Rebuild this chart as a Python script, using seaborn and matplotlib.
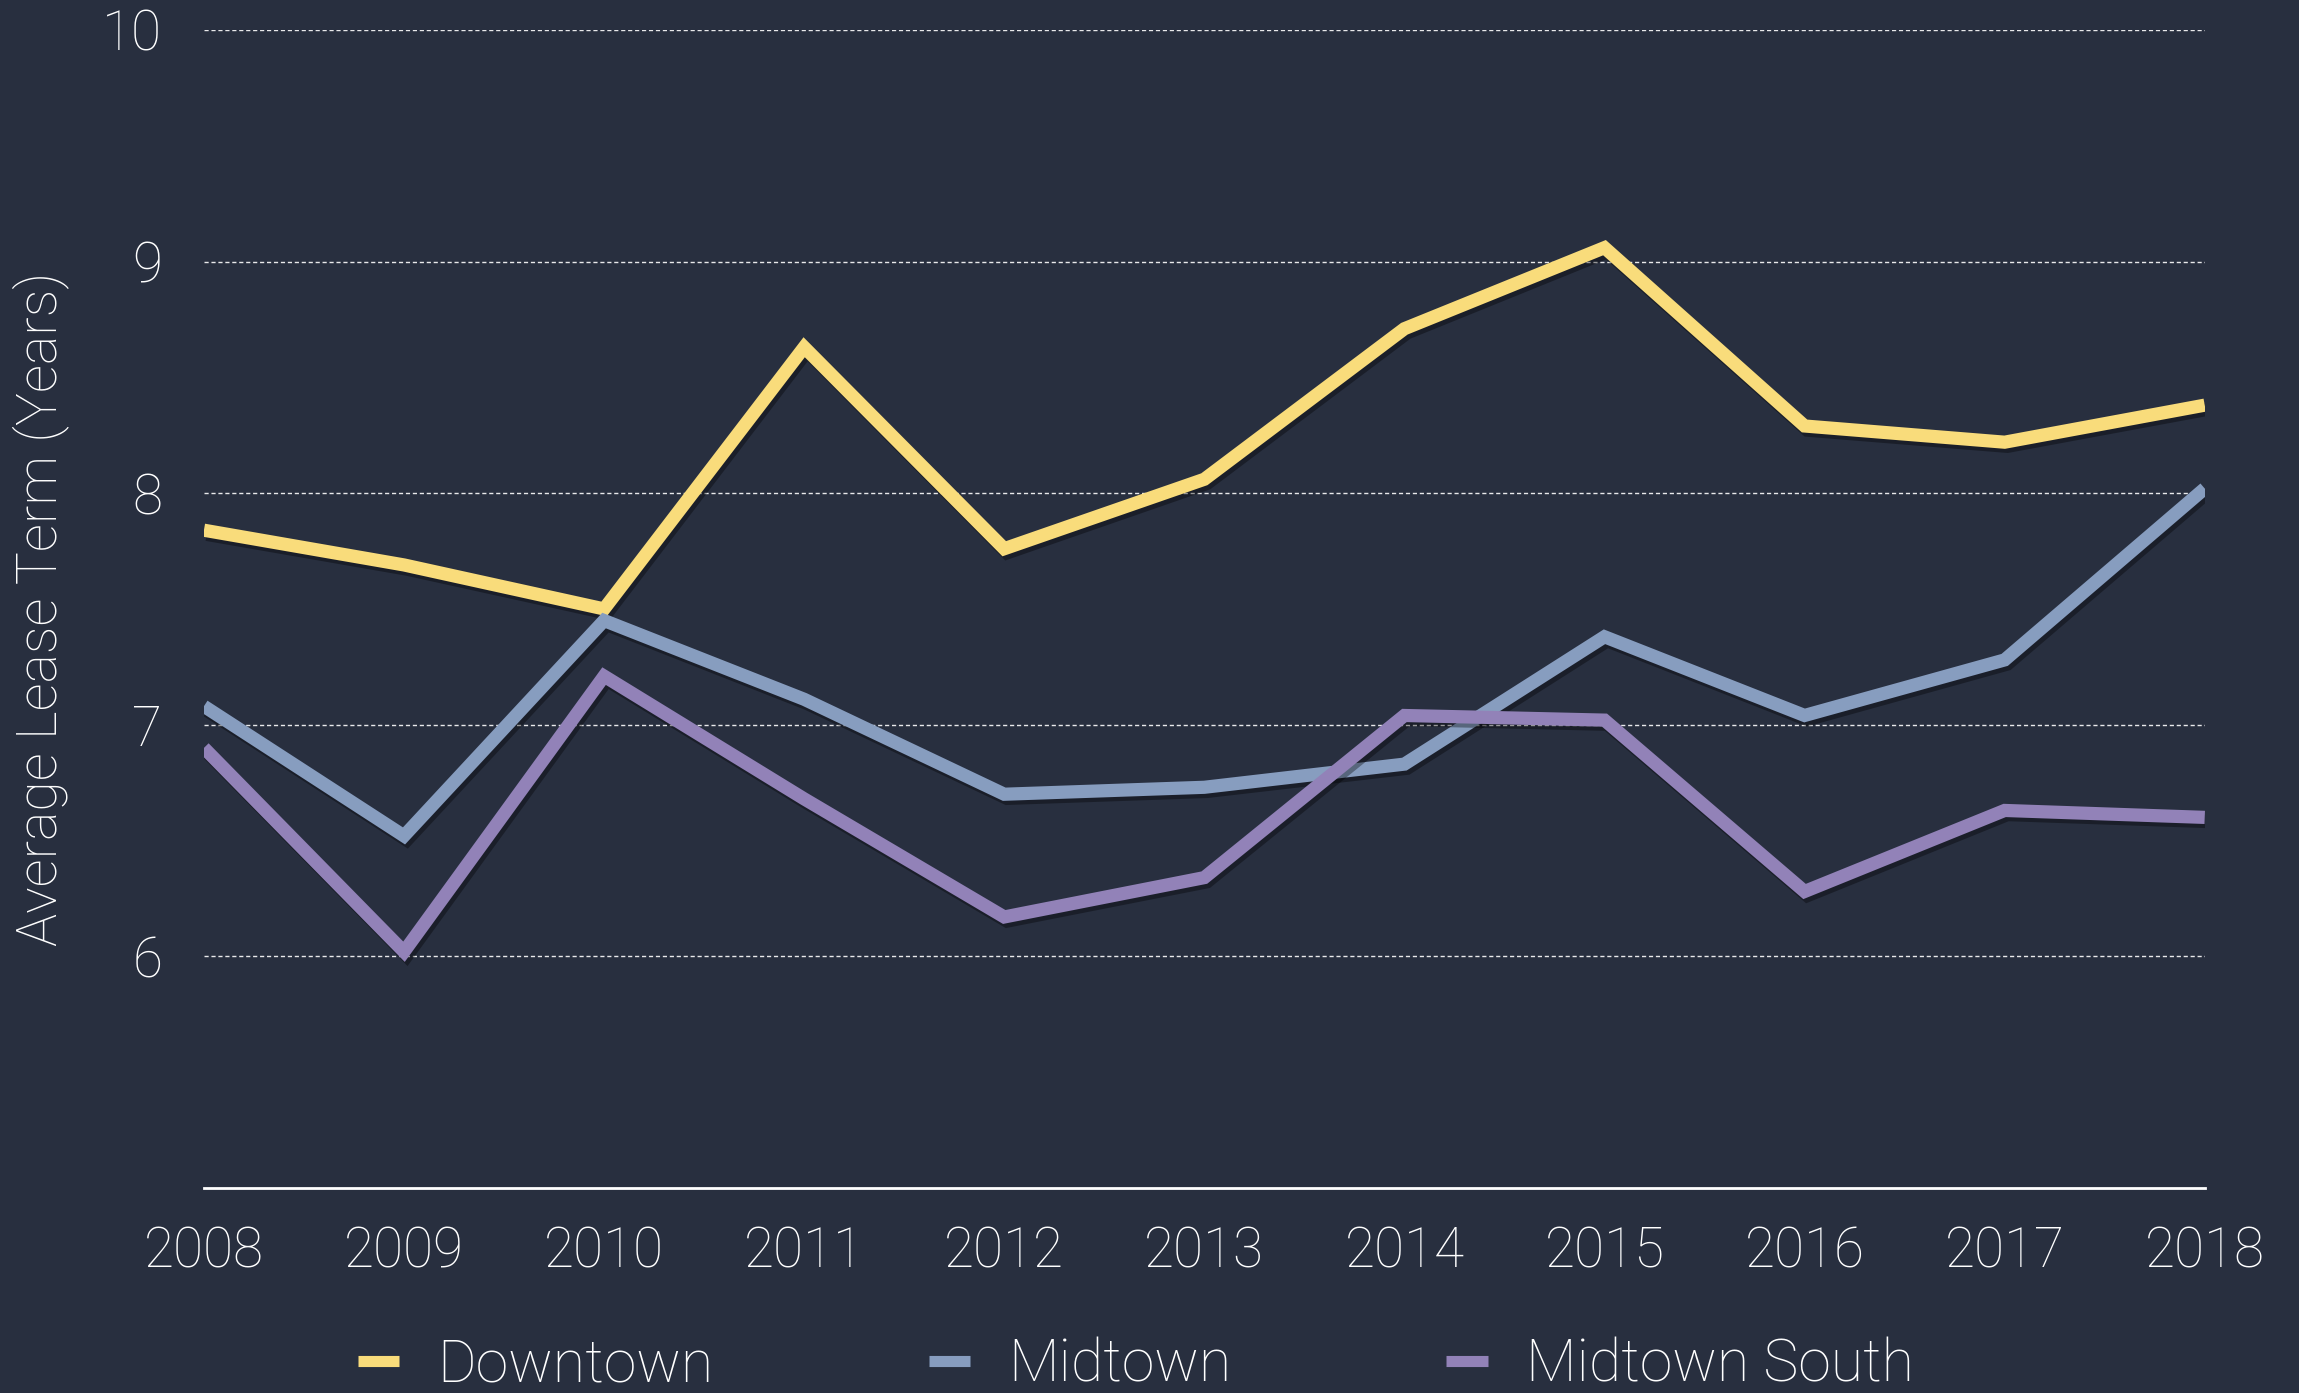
import numpy as np
import pandas as pd
import matplotlib
matplotlib.use("Agg")
import matplotlib.pyplot as plt
import matplotlib.patheffects as pe
import seaborn as sns

# ---- data ----
years = [2008, 2009, 2010, 2011, 2012, 2013, 2014, 2015, 2016, 2017, 2018]
downtown = [7.84, 7.69, 7.50, 8.63, 7.76, 8.06, 8.71, 9.06, 8.29, 8.22, 8.38]
midtown = [7.08, 6.52, 7.45, 7.11, 6.70, 6.73, 6.83, 7.38, 7.04, 7.28, 8.02]
midtown_south = [6.90, 6.02, 7.21, 6.68, 6.17, 6.34, 7.04, 7.02, 6.28, 6.63, 6.60]
series_names = ["Downtown", "Midtown", "Midtown South"]
y_ticks = [6, 7, 8, 9, 10]

df = pd.DataFrame({
    "Year": years * 3,
    "Term": downtown + midtown + midtown_south,
    "Market": np.repeat(series_names, len(years)),
})

bg = "#282f3f"
palette = {"Downtown": "#f9dc7b", "Midtown": "#879dbf", "Midtown South": "#9282b8"}

sns.set_style("dark")
plt.rcParams["font.family"] = ["Roboto", "DejaVu Sans"]
plt.rcParams["font.weight"] = "light"
plt.rcParams["axes.labelweight"] = "light"

fig = plt.figure(figsize=(22.99, 13.93), dpi=100, facecolor=bg)
ax = fig.add_axes([0.0887, 0.1472, 0.8703, 0.8313])
ax.set_facecolor(bg)

sns.lineplot(data=df, x="Year", y="Term", hue="Market", palette=palette,
             linewidth=9.5, ax=ax, legend=True)
for line in ax.get_lines():
    line.set_solid_joinstyle("miter")
    line.set_solid_capstyle("butt")
    line.set_path_effects([pe.SimpleLineShadow(offset=(2, -3), shadow_color="black", alpha=0.35),
                           pe.Normal()])

ax.set_xlim(2008, 2018)
ax.set_ylim(5, 10)
ax.set_xticks(years)
ax.set_yticks(y_ticks)
ax.tick_params(axis="both", length=0, colors="white", labelsize=39.5)
ax.tick_params(axis="x", pad=27)
ax.tick_params(axis="y", pad=30)
ax.grid(False)
for y in y_ticks:
    ax.axhline(y, color="white", lw=1.0, ls=(0, (3, 2)), alpha=0.9, zorder=0)

for s in ["top", "right", "left"]:
    ax.spines[s].set_visible(False)
ax.spines["bottom"].set_color("white")
ax.spines["bottom"].set_linewidth(2)

ax.set_xlabel("")
ax.set_ylabel("Average Lease Term (Years)", color="white", fontsize=40, labelpad=24)

sns.move_legend(ax, "center", bbox_to_anchor=(0.494, 0.02), bbox_transform=fig.transFigure,
                ncol=3, frameon=False, title=None, fontsize=42.5,
                handlelength=0.7, handletextpad=0.64, columnspacing=3.65, labelcolor="white")
for h in ax.get_legend().legend_handles:
    h.set_linewidth(8)
    h.set_solid_capstyle("butt")
    h.set_path_effects([])

fig.savefig("out.png", dpi=100, facecolor=bg)
